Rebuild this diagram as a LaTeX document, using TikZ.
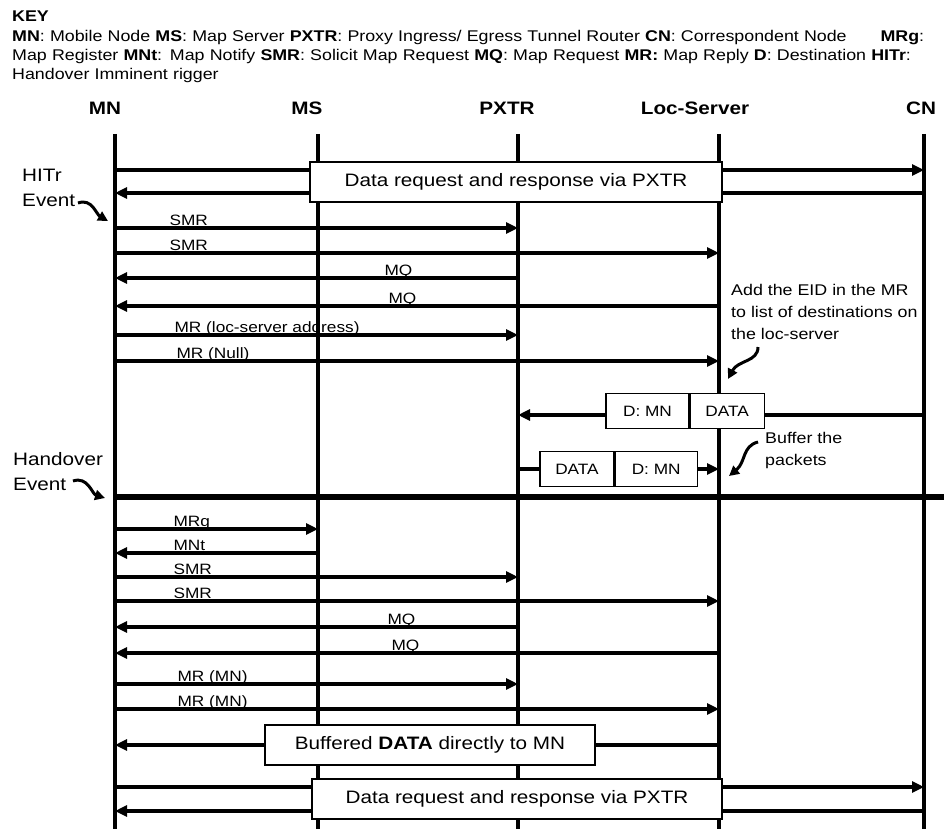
\documentclass[tikz,border=0pt]{standalone}
\usepackage{fontspec}
\setmainfont[FakeStretch=1.15]{Liberation Sans}
\usetikzlibrary{arrows.meta}

\newcommand*{\ytop}{134}
\newcommand*{\ybot}{829}

\begin{document}
\begin{tikzpicture}
[
	x=1pt,y=-1pt,
	life/.style={line width=3.2pt},
	msg/.style={line width=3.2pt,-{Triangle[length=12pt,width=11pt]}},
	lbl/.style={anchor=base west,inner sep=0pt,font=\fontsize{15}{18}\selectfont},
	head/.style={font=\fontsize{18}{21}\selectfont\bfseries},
	infobox/.style={draw,fill=white,line width=1.2pt,minimum height=40pt,inner sep=0pt,font=\fontsize{18}{21}\selectfont},
	pkt/.style={draw,fill=white,line width=1.2pt,minimum height=35pt,inner sep=0pt,font=\fontsize{15}{18}\selectfont},
	note/.style={anchor=north west,align=left,inner sep=0pt,font=\fontsize{15.5}{22}\selectfont},
	event/.style={anchor=north west,align=left,inner sep=0pt,font=\fontsize{18}{25}\selectfont},
	curly/.style={line width=3pt,-{Triangle[length=10pt,width=10pt]}}
]

	\useasboundingbox (0,0) rectangle (944,829);

	% key
	\node[anchor=north west,inner sep=0pt,text width=912pt,align=left,
		font=\fontsize{15.5}{19.2}\selectfont] (key) at (12,11)
		{\textbf{KEY}\\
		\textbf{MN}: Mobile Node \textbf{MS}: Map Server \textbf{PXTR}: Proxy Ingress/ Egress Tunnel Router \textbf{CN}: Correspondent Node\hfill\textbf{MRg}:\\
		Map Register \textbf{MNt}: Map Notify \textbf{SMR}: Solicit Map Request \textbf{MQ}: Map Request \textbf{MR:} Map Reply \textbf{D}: Destination \textbf{HITr}:\\
		Handover Imminent rigger};

	% heads and lifelines
	\node[head] (MN) at (105,108) {MN};
	\node[head] (MS) at (307,108) {MS};
	\node[head] (PXTR) at (507,108) {PXTR};
	\node[head] (LS) at (695,108) {Loc-Server};
	\node[head] (CN) at (921,108) {CN};

	\coordinate (mn) at (115,\ytop);
	\coordinate (ms) at (318,\ytop);
	\coordinate (px) at (518,\ytop);
	\coordinate (ls) at (719,\ytop);
	\coordinate (cn) at (924,\ytop);

	\foreach \p in {mn,ms,px,ls,cn}
		\draw[life] (\p) -- (\p |- 0,\ybot);

	% data via PXTR
	\draw[msg] (mn |- 0,170) -- (cn |- 0,170);
	\draw[msg] (cn |- 0,193) -- (mn |- 0,193);
	\node[infobox,minimum width=412pt] (via1) at (516,182) {Data request and response via PXTR};

	% HITr event
	\node[event] (hitr) at (22,169) {HITr\\Event};
	\coordinate (hitr-from) at (78,203);
	\coordinate (hitr-to) at (108,221);
	\draw[curly] (hitr-from) .. controls (92,198) and (96,214) .. (hitr-to);

	\draw[msg] (mn |- 0,228) -- (px |- 0,228) node[lbl] (smr1) at (168,225) {SMR};
	\draw[msg] (mn |- 0,253) -- (ls |- 0,253) node[lbl] (smr2) at (168,250) {SMR};
	\draw[msg] (px |- 0,278) -- (mn |- 0,278) node[lbl] (mq1) at (383,275) {MQ};
	\draw[msg] (ls |- 0,306) -- (mn |- 0,306) node[lbl] (mq2) at (387,303) {MQ};
	\draw[msg] (mn |- 0,335) -- (px |- 0,335) node[lbl] (mr1) at (173,332) {MR (loc-server address)};
	\draw[msg] (mn |- 0,361) -- (ls |- 0,361) node[lbl] (mr2) at (175,358) {MR (Null)};

	\node[note] (eid) at (731,284) {Add the EID in the MR\\to list of destinations on\\the loc-server};
	\coordinate (eid-from) at (758,347);
	\coordinate (eid-to) at (728,379);
	\draw[curly] (eid-from) .. controls (758,362) and (738,360) .. (eid-to);

	% packets
	\draw[msg] (cn |- 0,415) -- (px |- 0,415);
	\node[pkt,minimum width=83pt] (dmn1) at (647.5,411) {D: MN};
	\node[pkt,minimum width=74pt,anchor=west] (data1) at (dmn1.east) {DATA};

	\draw[msg] (px |- 0,469) -- (ls |- 0,469);
	\node[pkt,minimum width=74pt] (data2) at (577,469) {DATA};
	\node[pkt,minimum width=82pt,anchor=west] (dmn2) at (data2.east) {D: MN};

	\node[note] (buffer) at (765,432) {Buffer the\\packets};
	\coordinate (buf-from) at (758,442);
	\coordinate (buf-to) at (729,476);
	\draw[curly] (buf-from) .. controls (742,446) and (746,462) .. (buf-to);

	% handover
	\node[event] (ho) at (13,452) {Handover\\Event};
	\coordinate (ho-from) at (73,481);
	\coordinate (ho-to) at (105,498);
	\draw[curly] (ho-from) .. controls (88,476) and (92,494) .. (ho-to);
	\coordinate (ho-end) at (950,497);
	\draw[line width=6pt] (mn |- 0,497) -- (ho-end);

	\draw[msg] (mn |- 0,529) -- (ms |- 0,529) node[lbl] (mrg) at (172,526) {MRg};
	\draw[msg] (ms |- 0,553) -- (mn |- 0,553) node[lbl] (mnt) at (172,550) {MNt};
	\draw[msg] (mn |- 0,577) -- (px |- 0,577) node[lbl] (smr3) at (172,574) {SMR};
	\draw[msg] (mn |- 0,601) -- (ls |- 0,601) node[lbl] (smr4) at (172,598) {SMR};
	\draw[msg] (px |- 0,627) -- (mn |- 0,627) node[lbl] (mq3) at (386,624) {MQ};
	\draw[msg] (ls |- 0,653) -- (mn |- 0,653) node[lbl] (mq4) at (390,650) {MQ};
	\draw[msg] (mn |- 0,684) -- (px |- 0,684) node[lbl] (mr3) at (176,681) {MR (MN)};
	\draw[msg] (mn |- 0,709) -- (ls |- 0,709) node[lbl] (mr4) at (176,706) {MR (MN)};

	% buffered data
	\draw[msg] (ls |- 0,745) -- (mn |- 0,745);
	\node[infobox,minimum width=330pt] (buf) at (430,745) {Buffered \textbf{DATA} directly to MN};

	% data via PXTR again
	\draw[msg] (mn |- 0,787) -- (cn |- 0,787);
	\draw[msg] (cn |- 0,811) -- (mn |- 0,811);
	\node[infobox,minimum width=410pt] (via2) at (517,799) {Data request and response via PXTR};

\end{tikzpicture}
\end{document}
